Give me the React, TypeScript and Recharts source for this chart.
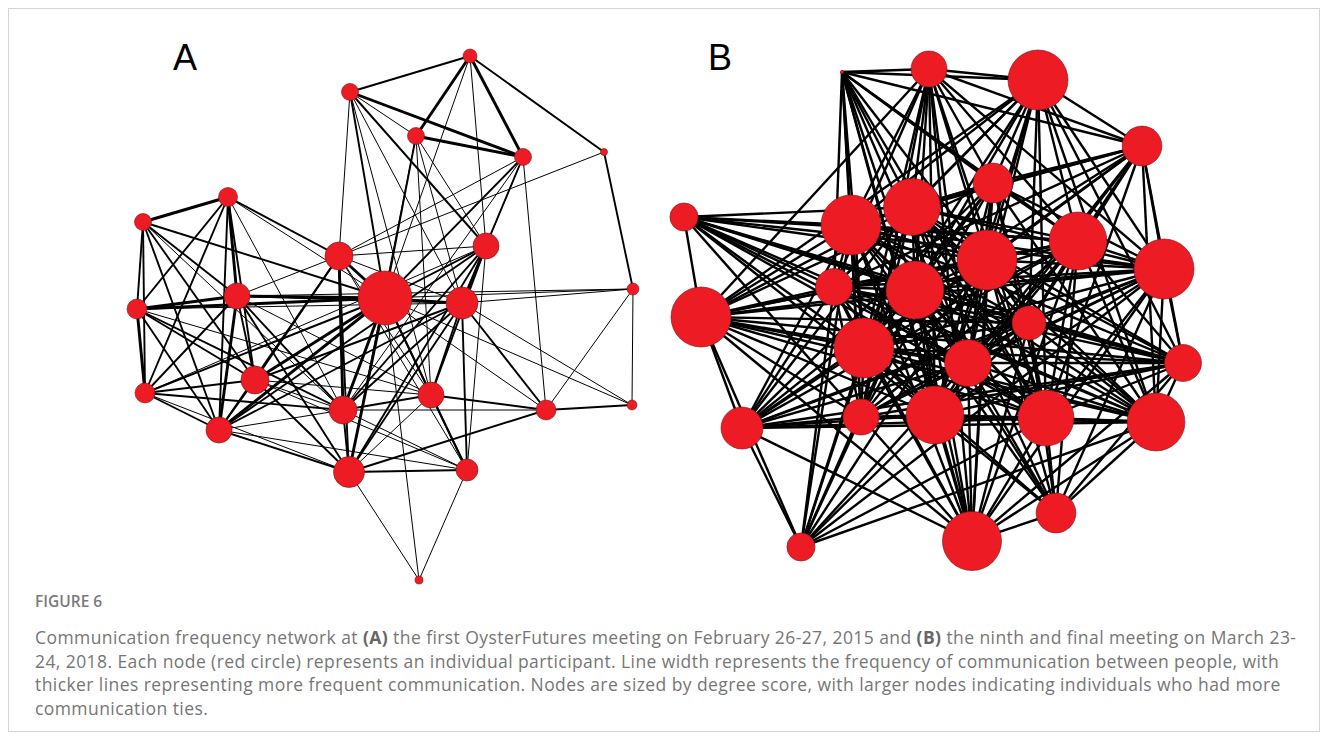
import React from 'react';
import { ScatterChart, Scatter, XAxis, YAxis, ZAxis, ReferenceLine } from 'recharts';

type NetNode = { x: number; y: number; degree: number };

// Panel A – first meeting. Layout position (px) and degree score per participant.
const nodesA: NetNode[] = [
  { x: 470, y: 56, degree: 6.7 },
  { x: 350, y: 92, degree: 9.9 },
  { x: 416, y: 136, degree: 9.9 },
  { x: 523, y: 157, degree: 9.9 },
  { x: 604, y: 152, degree: 1.7 },
  { x: 228, y: 197, degree: 12.4 },
  { x: 143, y: 222, degree: 9.9 },
  { x: 339, y: 256, degree: 26.9 },
  { x: 486, y: 246, degree: 23.2 },
  { x: 385, y: 298, degree: 100 },
  { x: 462, y: 303, degree: 35.1 },
  { x: 633, y: 289, degree: 4.9 },
  { x: 237, y: 296, degree: 23.2 },
  { x: 137, y: 309, degree: 13.7 },
  { x: 255, y: 380, degree: 26.9 },
  { x: 145, y: 393, degree: 13.7 },
  { x: 219, y: 430, degree: 23.2 },
  { x: 343, y: 410, degree: 26.9 },
  { x: 431, y: 395, degree: 23.2 },
  { x: 546, y: 410, degree: 13.7 },
  { x: 632, y: 405, degree: 3.4 },
  { x: 349, y: 472, degree: 33 },
  { x: 467, y: 470, degree: 16.6 },
  { x: 419, y: 580, degree: 2.2 },
];

// [from, to, frequency class 1..3]
const linksA: [number, number, number][] = [
  [0, 1, 2], [0, 2, 3], [0, 3, 3], [0, 4, 2], [0, 9, 1], [0, 8, 1],
  [1, 2, 1], [1, 3, 3], [1, 7, 1], [1, 9, 2], [1, 8, 2], [1, 10, 1], [1, 18, 1],
  [2, 3, 3], [2, 9, 2], [2, 10, 1], [2, 18, 1], [2, 21, 1], [2, 8, 1],
  [3, 7, 1], [3, 9, 2], [3, 10, 2], [3, 8, 1], [3, 19, 1], [3, 17, 1],
  [4, 11, 2], [4, 7, 1],
  [5, 6, 3], [5, 13, 2], [5, 12, 3], [5, 15, 2], [5, 16, 2], [5, 14, 2], [5, 7, 2], [5, 9, 1], [5, 17, 1],
  [6, 13, 2], [6, 12, 2], [6, 14, 2], [6, 15, 2], [6, 16, 2], [6, 9, 2], [6, 17, 1],
  [7, 9, 3], [7, 10, 1], [7, 8, 1], [7, 12, 1], [7, 17, 3], [7, 21, 2], [7, 16, 2], [7, 14, 2], [7, 18, 1], [7, 22, 1],
  [8, 9, 2], [8, 10, 3], [8, 17, 2], [8, 18, 2], [8, 21, 2], [8, 16, 2], [8, 15, 1], [8, 22, 1],
  [9, 12, 3], [9, 13, 3], [9, 10, 2], [9, 11, 1], [9, 14, 3], [9, 15, 2], [9, 16, 3], [9, 17, 3], [9, 18, 2],
  [9, 21, 3], [9, 22, 2], [9, 19, 1], [9, 20, 1], [9, 23, 1],
  [10, 11, 1], [10, 12, 2], [10, 13, 1], [10, 14, 2], [10, 16, 2], [10, 17, 2], [10, 18, 2], [10, 19, 2],
  [10, 20, 1], [10, 21, 2], [10, 22, 2],
  [11, 12, 1], [11, 20, 1], [11, 19, 1],
  [12, 13, 3], [12, 14, 2], [12, 15, 2], [12, 16, 3], [12, 17, 2], [12, 21, 2], [12, 18, 1],
  [13, 15, 3], [13, 14, 2], [13, 16, 2], [13, 17, 2], [13, 18, 1],
  [14, 15, 2], [14, 16, 2], [14, 17, 1], [14, 18, 1], [14, 21, 2], [14, 22, 1],
  [15, 16, 2], [15, 17, 2], [15, 21, 1],
  [16, 17, 1], [16, 21, 2], [16, 22, 1],
  [17, 18, 2], [17, 19, 1], [17, 21, 2], [17, 22, 1],
  [18, 19, 2], [18, 21, 1], [18, 22, 2],
  [19, 20, 2], [19, 21, 2],
  [21, 22, 2], [21, 23, 1], [22, 23, 1],
];

// Panel B – ninth meeting.
const nodesB: NetNode[] = [
  { x: 842, y: 72, degree: 0.3 },
  { x: 929, y: 69, degree: 36 },
  { x: 1038, y: 80, degree: 100 },
  { x: 1142, y: 146, degree: 44 },
  { x: 993, y: 183, degree: 44 },
  { x: 684, y: 217, degree: 22 },
  { x: 851, y: 225, degree: 100 },
  { x: 912, y: 207, degree: 90 },
  { x: 987, y: 260, degree: 100 },
  { x: 1078, y: 241, degree: 93 },
  { x: 1164, y: 269, degree: 100 },
  { x: 834, y: 287, degree: 38 },
  { x: 915, y: 290, degree: 93 },
  { x: 701, y: 317, degree: 100 },
  { x: 864, y: 348, degree: 100 },
  { x: 1029, y: 323, degree: 32 },
  { x: 968, y: 363, degree: 61 },
  { x: 1183, y: 363, degree: 38 },
  { x: 742, y: 428, degree: 49 },
  { x: 861, y: 417, degree: 36 },
  { x: 935, y: 415, degree: 93 },
  { x: 1046, y: 418, degree: 87 },
  { x: 1156, y: 422, degree: 93 },
  { x: 1056, y: 513, degree: 44 },
  { x: 972, y: 541, degree: 97 },
  { x: 801, y: 547, degree: 22 },
];

// neighbours of node i with a higher index
const neighboursB: number[][] = [
  [1, 2, 3, 4, 6, 7, 8, 9, 11, 12, 14, 16, 19, 20, 21, 24],
  [2, 3, 4, 6, 7, 8, 9, 10, 11, 12, 13, 14, 16, 19, 20, 21, 24],
  [3, 4, 6, 7, 8, 9, 10, 11, 12, 13, 14, 15, 16, 17, 20, 21, 22],
  [4, 6, 7, 8, 9, 10, 11, 12, 14, 15, 16, 17, 20, 21, 22],
  [6, 7, 8, 9, 10, 12, 13, 14, 15, 16, 18, 19, 20, 21, 22, 24],
  [6, 7, 8, 9, 10, 11, 12, 13, 14, 15, 16, 17, 19, 20, 21, 22],
  [7, 8, 9, 10, 11, 12, 13, 14, 15, 16, 17, 18, 19, 20, 21, 22, 23, 24, 25],
  [8, 9, 10, 11, 12, 13, 14, 15, 16, 17, 18, 19, 20, 21, 22, 23, 24, 25],
  [9, 10, 11, 12, 13, 14, 15, 16, 17, 18, 19, 20, 21, 22, 23, 24, 25],
  [10, 11, 12, 13, 14, 15, 16, 17, 18, 19, 20, 21, 22, 23, 24],
  [11, 12, 13, 14, 15, 16, 17, 18, 19, 20, 21, 22, 23, 24, 25],
  [12, 13, 14, 15, 16, 17, 18, 19, 20, 21, 22, 24, 25],
  [13, 14, 15, 16, 17, 18, 19, 20, 21, 22, 23, 24, 25],
  [14, 15, 16, 17, 18, 19, 20, 21, 22, 24, 25],
  [15, 16, 17, 18, 19, 20, 21, 22, 23, 24, 25],
  [16, 17, 18, 19, 20, 21, 22, 23, 24],
  [17, 18, 19, 20, 21, 22, 23, 24, 25],
  [18, 19, 20, 21, 22, 23, 24],
  [19, 20, 21, 22, 24, 25],
  [20, 21, 22, 24, 25],
  [21, 22, 23, 24, 25],
  [22, 23, 24, 25],
  [23, 24, 25],
  [24],
  [],
  [],
];

const linksB: [number, number, number][] = neighboursB.flatMap((list, i) =>
  list.map((j) => [i, j, 2] as [number, number, number])
);

const captionLines = [
  ['Communication frequency network at ', '(A)', ' the first OysterFutures meeting on February 26-27, 2015 and ', '(B)', ' the ninth and final meeting on March 23-'],
  ['24, 2018. Each node (red circle) represents an individual participant. Line width represents the frequency of communication between people, with'],
  ['thicker lines representing more frequent communication. Nodes are sized by degree score, with larger nodes indicating individuals who had more'],
  ['communication ties.'],
];

const NODE_RED = '#ED1C24';
const PAGE_OFFSET = 9; // body margin + frame border

interface PanelProps {
  nodes: NetNode[];
  links: [number, number, number][];
  x0: number;
  y0: number;
  w: number;
  h: number;
  maxRadius: number;
  widths: number[];
}

const NetworkPanel: React.FC<PanelProps> = ({ nodes, links, x0, y0, w, h, maxRadius, widths }) => (
  <div style={{ position: 'absolute', left: x0 - PAGE_OFFSET, top: y0 - PAGE_OFFSET, width: w, height: h }}>
    <ScatterChart width={w} height={h} margin={{ top: 0, right: 0, bottom: 0, left: 0 }}>
      <XAxis type="number" dataKey="x" domain={[x0, x0 + w]} hide allowDataOverflow />
      <YAxis type="number" dataKey="y" domain={[y0, y0 + h]} reversed hide allowDataOverflow />
      <ZAxis type="number" dataKey="degree" domain={[0, 100]} range={[0, Math.PI * maxRadius * maxRadius]} />
      {links.map(([a, b, f], i) => (
        <ReferenceLine
          key={`l-${i}`}
          segment={[
            { x: nodes[a].x, y: nodes[a].y },
            { x: nodes[b].x, y: nodes[b].y },
          ]}
          stroke="#000"
          strokeWidth={widths[f - 1]}
          ifOverflow="visible"
        />
      ))}
      <Scatter
        data={nodes}
        fill={NODE_RED}
        stroke="#7a1414"
        strokeWidth={0.6}
        isAnimationActive={false}
      />
    </ScatterChart>
  </div>
);

export default function App() {
  return (
    <div
      style={{
        position: 'relative',
        width: 1312,
        height: 724,
        boxSizing: 'border-box',
        border: '1px solid #d4d4d4',
        background: '#fff',
        overflow: 'hidden',
        fontFamily: '"Open Sans", sans-serif',
      }}
    >
      <NetworkPanel nodes={nodesA} links={linksA} x0={100} y0={30} w={560} h={570} maxRadius={27} widths={[1.0, 1.9, 2.9]} />
      <NetworkPanel nodes={nodesB} links={linksB} x0={660} y0={30} w={560} h={570} maxRadius={30} widths={[1.4, 2.4, 3.2]} />

      <div style={{ position: 'absolute', left: 173 - PAGE_OFFSET, top: 38 - PAGE_OFFSET, fontFamily: '"Liberation Sans", sans-serif', fontSize: 36, lineHeight: '40px', color: '#000' }}>A</div>
      <div style={{ position: 'absolute', left: 708 - PAGE_OFFSET, top: 38 - PAGE_OFFSET, fontFamily: '"Liberation Sans", sans-serif', fontSize: 36, lineHeight: '40px', color: '#000' }}>B</div>

      <div style={{ position: 'absolute', left: 35 - PAGE_OFFSET, top: 591 - PAGE_OFFSET, fontSize: 15.5, fontWeight: 600, color: '#7a7a7a', lineHeight: '20px' }}>
        FIGURE 6
      </div>
      <div style={{ position: 'absolute', left: 35 - PAGE_OFFSET, top: 626 - PAGE_OFFSET, fontSize: 17.5, letterSpacing: 0.42, color: '#767676', lineHeight: '23.5px', whiteSpace: 'nowrap' }}>
        {captionLines.map((parts, i) => (
          <div key={i}>
            {parts.map((p, k) =>
              p === '(A)' || p === '(B)' ? (
                <b key={k} style={{ fontWeight: 700, color: '#666' }}>{p}</b>
              ) : (
                <span key={k}>{p}</span>
              )
            )}
          </div>
        ))}
      </div>
    </div>
  );
}
